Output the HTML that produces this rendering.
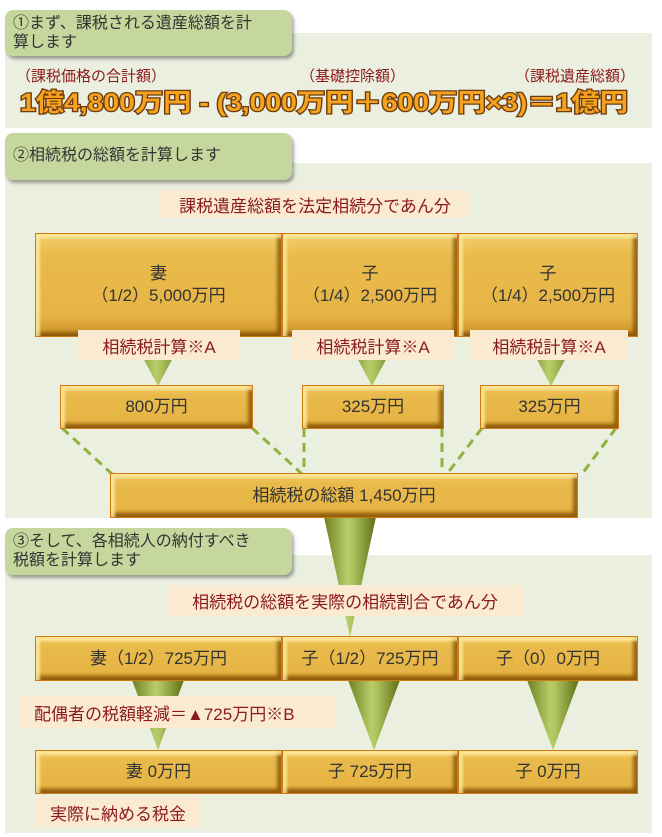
<!DOCTYPE html>
<html><head><meta charset="utf-8"><style>
body{margin:0;width:662px;height:837px;background:#fff;position:relative;overflow:hidden;font-family:"Liberation Sans","Noto Sans CJK JP",sans-serif;}
.abs{position:absolute;}
.panel{position:absolute;background:#ebefe0;}
.tab{position:absolute;background:#c5d79d;border-radius:8px;box-shadow:2px 3px 3px rgba(0,0,0,.35);color:#333;font-size:16px;line-height:19px;padding:4px 8px;box-sizing:border-box;}
.gold{position:absolute;box-sizing:border-box;background:linear-gradient(#f3d070 0%,#e9bb4c 20%,#e6b444 80%,#c98f22 100%);border:1px solid #d27a10;box-shadow:inset 4px 4px 2px rgba(255,235,160,.8),inset -4px -4px 3px rgba(120,70,0,.7);color:#333;font-size:17px;text-align:center;display:flex;flex-direction:column;justify-content:center;line-height:22px;}
.lab{position:absolute;background:#fbead2;color:#8b1a1a;font-size:17px;text-align:center;box-sizing:border-box;display:flex;align-items:center;justify-content:center;}
svg{position:absolute;left:0;top:0;}
</style></head><body>
<div class="panel" style="left:5px;top:33px;width:647px;height:95px"></div>
<div class="panel" style="left:5px;top:163px;width:647px;height:355px"></div>
<div class="panel" style="left:5px;top:555px;width:647px;height:278px"></div>

<div class="tab" style="left:5px;top:10px;width:287px;height:46px">①まず、課税される遺産総額を計<br>算します</div>
<div class="tab" style="left:5px;top:133px;width:287px;height:47px;padding-top:13px">②相続税の総額を計算します</div>
<div class="tab" style="left:5px;top:528px;width:287px;height:47px">③そして、各相続人の納付すべき<br>税額を計算します</div>

<div class="abs" style="left:16px;top:65px;font-size:15px;color:#8b1a1a">（課税価格の合計額）</div>
<div class="abs" style="left:300px;top:65px;font-size:15px;color:#8b1a1a">（基礎控除額）</div>
<div class="abs" style="left:515px;top:65px;font-size:15px;color:#8b1a1a">（課税遺産総額）</div>

<svg width="662" height="837">
<defs>
<linearGradient id="g" x1="0" x2="1" y1="0" y2="0">
<stop offset="0" stop-color="#6e8020"/><stop offset=".45" stop-color="#b8cc6a"/><stop offset=".55" stop-color="#aec25e"/><stop offset="1" stop-color="#5e6e18"/></linearGradient>
</defs>
<text x="20" y="111" font-size="25" font-weight="bold" fill="#f5a21e" stroke="#6b3a10" stroke-width="2.5" paint-order="stroke" textLength="608" lengthAdjust="spacingAndGlyphs" font-family="Liberation Sans, Noto Sans CJK JP, sans-serif">1億4,800万円 - (3,000万円＋600万円×3)＝1億円</text>
<g fill="url(#g)">
<polygon points="132,337 184,337 158,386"/>
<polygon points="346,337 398,337 372,386"/>
<polygon points="525,337 577,337 551,386"/>
<polygon points="324,517 376,517 350,637"/>
<polygon points="132,680 184,680 158,750"/>
<polygon points="348,680 400,680 374,750"/>
<polygon points="527,680 579,680 553,750"/>
</g>
<g stroke="#8fb23c" stroke-width="3" stroke-dasharray="9,6" fill="none">
<line x1="62" y1="428" x2="112" y2="474"/>
<line x1="252" y1="428" x2="302" y2="474"/>
<line x1="304" y1="428" x2="304" y2="474"/>
<line x1="442" y1="428" x2="442" y2="474"/>
<line x1="482" y1="428" x2="447" y2="474"/>
<line x1="616" y1="428" x2="582" y2="474"/>
</g>
</svg>

<div class="lab" style="left:160px;top:190px;width:310px;height:28px">課税遺産総額を法定相続分であん分</div>
<div class="gold" style="left:35px;top:233px;width:247px;height:104px">妻<br>（1/2）5,000万円</div>
<div class="gold" style="left:282px;top:233px;width:176px;height:104px">子<br>（1/4）2,500万円</div>
<div class="gold" style="left:458px;top:233px;width:180px;height:104px">子<br>（1/4）2,500万円</div>
<div class="lab" style="left:78px;top:330px;width:162px;height:30px">相続税計算※A</div>
<div class="lab" style="left:292px;top:330px;width:162px;height:30px">相続税計算※A</div>
<div class="lab" style="left:470px;top:330px;width:158px;height:30px">相続税計算※A</div>
<div class="gold" style="left:60px;top:385px;width:193px;height:44px">800万円</div>
<div class="gold" style="left:302px;top:385px;width:142px;height:44px">325万円</div>
<div class="gold" style="left:480px;top:385px;width:139px;height:44px">325万円</div>
<div class="gold" style="left:110px;top:473px;width:468px;height:45px">相続税の総額 1,450万円</div>

<div class="lab" style="left:167px;top:585px;width:356px;height:31px">相続税の総額を実際の相続割合であん分</div>
<div class="gold" style="left:35px;top:636px;width:247px;height:45px">妻（1/2）725万円</div>
<div class="gold" style="left:282px;top:636px;width:176px;height:45px">子（1/2）725万円</div>
<div class="gold" style="left:458px;top:636px;width:180px;height:45px">子（0）0万円</div>
<div class="lab" style="left:20px;top:696px;width:316px;height:32px;justify-content:flex-start;padding-left:14px">配偶者の税額軽減＝▲725万円※B</div>
<div class="gold" style="left:35px;top:750px;width:247px;height:44px">妻 0万円</div>
<div class="gold" style="left:282px;top:750px;width:176px;height:44px">子 725万円</div>
<div class="gold" style="left:458px;top:750px;width:180px;height:44px">子 0万円</div>
<div class="lab" style="left:35px;top:797px;width:166px;height:30px">実際に納める税金</div>
</body></html>
